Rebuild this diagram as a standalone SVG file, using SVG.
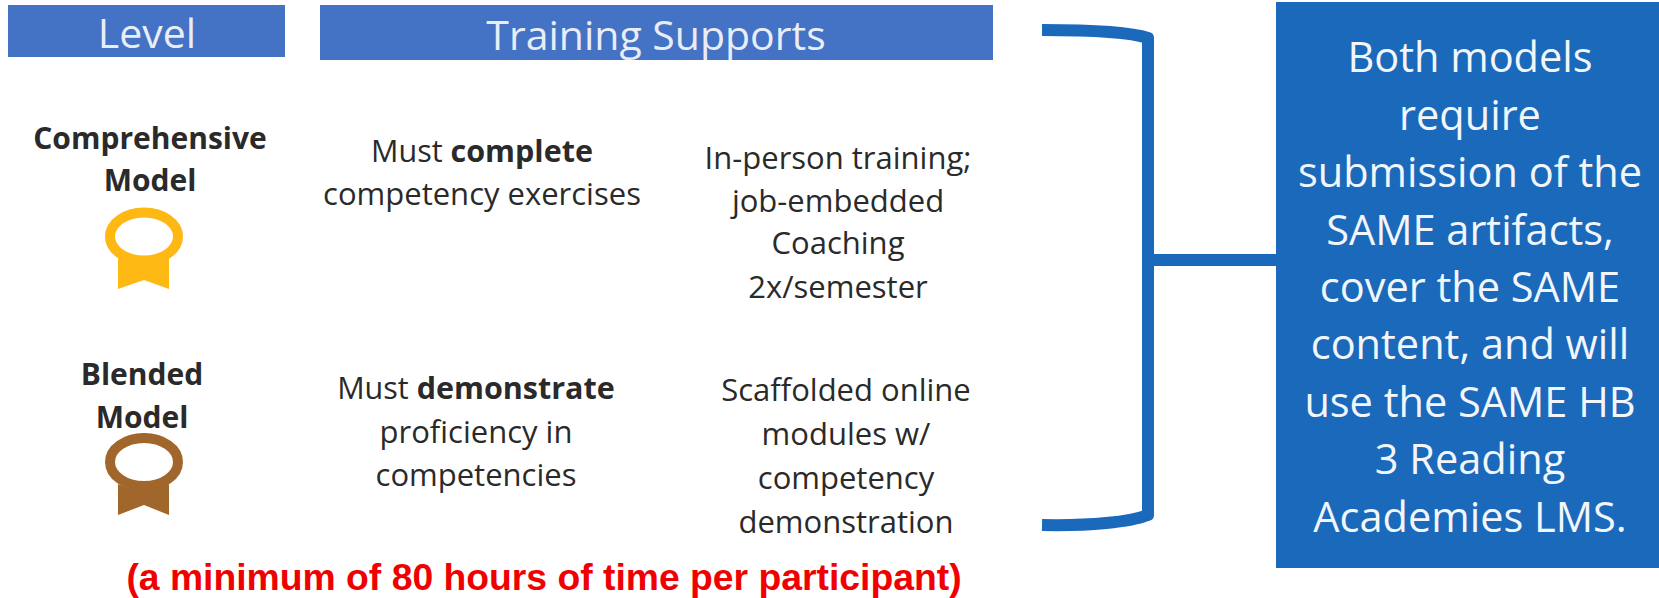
<svg xmlns="http://www.w3.org/2000/svg" width="1659" height="598" viewBox="0 0 1659 598">
<style>
text{font-family:"Open Sans","Noto Sans",sans-serif;fill:#2a2a2a;text-anchor:middle}
.h{font-size:41px;fill:#e8edf7}
.m{font-size:31px}
.s{font-size:30.5px}
.b{font-size:30px;font-weight:700}
.w{font-size:41.5px;fill:#f2f6fb}
.br{fill:none;stroke:#1b69ba;stroke-width:12;stroke-linejoin:round}
</style>
<rect width="1659" height="598" fill="#fff"/>
<g id="level"><rect x="8" y="5" width="277" height="52" fill="#4472c4"/><text class="h" x="147" y="48">Level</text></g>
<g id="supports"><rect x="320" y="5" width="673" height="55" fill="#4472c4"/><text class="h" x="656" y="50">Training Supports</text></g>
<g id="comprehensive"><text class="b" x="150" y="149">Comprehensive</text><text class="b" x="150" y="191">Model</text>
<ellipse cx="144" cy="236.5" rx="34" ry="24" fill="#fff" stroke="#fdb813" stroke-width="10"/><path d="M118 258Q144 270 169 258V289L144 280L118 289Z" fill="#fdb813"/></g>
<g id="blended"><text class="b" x="142" y="385">Blended</text><text class="b" x="142" y="428">Model</text>
<ellipse cx="144" cy="462" rx="34" ry="24" fill="#fff" stroke="#a0662c" stroke-width="10"/><path d="M118 484Q144 496 169 484V515L144 505L118 515Z" fill="#a0662c"/></g>
<g id="comp-text"><text class="s" x="482" y="162">Must <tspan font-weight="700">complete</tspan></text><text class="m" x="482" y="205">competency exercises</text></g>
<g id="comp-support"><text class="m" x="838" y="169">In-person training;</text><text class="m" x="838" y="212">job-embedded</text><text class="m" x="838" y="254">Coaching</text><text class="m" x="838" y="298">2x/semester</text></g>
<g id="blend-text"><text class="s" x="476" y="399">Must <tspan font-weight="700">demonstrate</tspan></text><text class="m" x="476" y="443">proficiency in</text><text class="m" x="476" y="486">competencies</text></g>
<g id="blend-support"><text class="m" x="846" y="401">Scaffolded online</text><text class="m" x="846" y="445">modules w/</text><text class="m" x="846" y="489">competency</text><text class="m" x="846" y="533">demonstration</text></g>
<g id="connectors"><path class="br" d="M1042 30C1090 30 1130 32 1148 38V515C1130 522 1090 526 1042 525"/><path class="br" d="M1150 260H1278"/></g>
<g id="note"><rect x="1276" y="2" width="383" height="566" fill="#1b69ba"/>
<text class="w" x="1470" y="72">Both models</text><text class="w" x="1470" y="130">require</text><text class="w" x="1470" y="187">submission of the</text><text class="w" x="1470" y="245">SAME artifacts,</text><text class="w" x="1470" y="302">cover the SAME</text><text class="w" x="1470" y="359">content, and will</text><text class="w" x="1470" y="417">use the SAME HB</text><text class="w" x="1470" y="474">3 Reading</text><text class="w" x="1470" y="532">Academies LMS.</text></g>
<text id="footer" x="544" y="590" style="font-family:'Liberation Sans',Arial,sans-serif;font-size:37.3px;font-weight:700;fill:#f00000">(a minimum of 80 hours of time per participant)</text>
</svg>
